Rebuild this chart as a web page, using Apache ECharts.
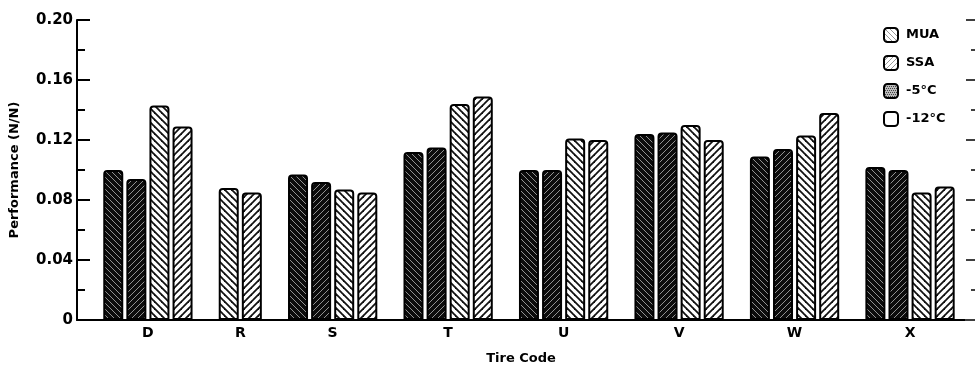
<!DOCTYPE html>
<html>
<head>
<meta charset="utf-8">
<script src="https://cdn.jsdelivr.net/npm/echarts@6/dist/echarts.min.js"></script>
<style>
  html, body { margin: 0; padding: 0; background: #fff; }
  #chart { width: 975px; height: 370px; }
</style>
</head>
<body>
<div id="chart"></div>
<script>
// Tire codes along the x axis
const tireCodes = ['D', 'R', 'S', 'T', 'U', 'V', 'W', 'X'];

// Performance (N/N) per tire code; null = not tested
const muaMinus5  = [0.100, null,  0.097, 0.112, 0.100, 0.124, 0.109, 0.102];
const ssaMinus5  = [0.094, null,  0.092, 0.115, 0.100, 0.125, 0.114, 0.100];
const muaMinus12 = [0.143, 0.088, 0.087, 0.144, 0.121, 0.130, 0.123, 0.085];
const ssaMinus12 = [0.129, 0.085, 0.085, 0.149, 0.120, 0.120, 0.138, 0.089];

// Y axis tick labels (0 to 0.20 by 0.04)
const yTickLabels = ['0', '0.04', '0.08', '0.12', '0.16', '0.20'];

// Legend entries
const legendNames = ['MUA', 'SSA', '-5°C', '-12°C'];

// ---- hatch patterns ----
function hatch(bg, fg, dir, size, lw) {
  const c = document.createElement('canvas');
  c.width = c.height = size;
  const g = c.getContext('2d');
  g.fillStyle = bg;
  g.fillRect(0, 0, size, size);
  g.strokeStyle = fg;
  g.lineWidth = lw;
  for (let k = -1; k <= 1; k++) {
    g.beginPath();
    if (dir === '\\') {
      g.moveTo(k * size - size, -size);
      g.lineTo(k * size + 2 * size, 2 * size);
    } else {
      g.moveTo(k * size - size, 2 * size);
      g.lineTo(k * size + 2 * size, -size);
    }
    g.stroke();
  }
  return { image: c, repeat: 'repeat' };
}
function stipple(bg, fg, size) {
  const c = document.createElement('canvas');
  c.width = c.height = size;
  const g = c.getContext('2d');
  g.fillStyle = bg;
  g.fillRect(0, 0, size, size);
  g.fillStyle = fg;
  for (let y = 0; y < size; y += 2) {
    for (let x = (y / 2) % 2; x < size; x += 2) g.fillRect(x, y, 1, 1);
  }
  return { image: c, repeat: 'repeat' };
}

const fills = [
  hatch('#0c0c0c', 'rgba(255,255,255,0.55)', '\\', 6, 1),
  hatch('#0c0c0c', 'rgba(255,255,255,0.55)', '/', 6, 1),
  hatch('#fff', '#111', '\\', 7, 1.8),
  hatch('#fff', '#111', '/', 7, 1.8)
];
const legendFills = [
  hatch('#fff', '#999', '\\', 5, 1),
  hatch('#fff', '#999', '/', 5, 1),
  stipple('#bbb', '#444', 4),
  '#fff'
];

// ---- slot layout: one slot per bar present, one blank slot between groups ----
const seriesValues = [muaMinus5, ssaMinus5, muaMinus12, ssaMinus12];
const seriesNames = ['MUA -5°C', 'SSA -5°C', 'MUA -12°C', 'SSA -12°C'];
const slotData = seriesValues.map(() => []);
const groupCenters = [];
let slot = 0;
tireCodes.forEach((code, i) => {
  const start = slot;
  seriesValues.forEach((vals, s) => {
    if (vals[i] != null) { slotData[s].push([slot, vals[i]]); slot++; }
  });
  groupCenters.push((start + slot - 1) / 2);
  slot++;
});
const lastSlot = slot - 2;

const font = 'DejaVu Sans';

const barSeries = seriesValues.map((v, s) => ({
  name: seriesNames[s],
  type: 'bar',
  data: slotData[s],
  barWidth: 20,
  barGap: '-100%',
  itemStyle: {
    color: fills[s],
    borderColor: '#000',
    borderWidth: 2,
    borderRadius: [3, 3, 0, 0]
  },
  silent: true
}));

const legendSeries = legendNames.map((n, i) => ({
  name: n,
  type: 'bar',
  data: [],
  barWidth: 20,
  barGap: '-100%',
  itemStyle: { color: legendFills[i], borderColor: '#000', borderWidth: 2 }
}));

const chart = echarts.init(document.getElementById('chart'), null, { renderer: 'canvas' });
chart.setOption({
  animation: false,
  backgroundColor: '#fff',
  grid: { left: 76, right: 10, top: 20, bottom: 45, containLabel: false },
  legend: {
    data: legendNames,
    orient: 'vertical',
    left: 878,
    top: 22,
    itemWidth: 14,
    itemHeight: 14,
    itemGap: 12,
    icon: 'roundRect',
    selectedMode: false,
    textStyle: { fontFamily: font, fontWeight: 'bold', fontSize: 13, color: '#000', padding: [0, 0, 0, 3] }
  },
  xAxis: {
    type: 'value',
    min: -1.57,
    max: lastSlot + 0.88,
    name: 'Tire Code',
    nameLocation: 'middle',
    nameGap: 32,
    nameTextStyle: { fontFamily: font, fontWeight: 'bold', fontSize: 13, color: '#000' },
    axisLine: { show: true, onZero: false, lineStyle: { color: '#000', width: 2 } },
    axisTick: { show: false },
    splitLine: { show: false },
    axisLabel: {
      customValues: groupCenters,
      margin: 6,
      fontFamily: font, fontWeight: 'bold', fontSize: 14, color: '#000',
      formatter: (val) => {
        let best = 0;
        groupCenters.forEach((c, i) => { if (Math.abs(c - val) < Math.abs(groupCenters[best] - val)) best = i; });
        return tireCodes[best];
      }
    }
  },
  yAxis: [
    {
      type: 'value',
      min: 0, max: 0.2, interval: 0.04,
      name: 'Performance (N/N)',
      nameLocation: 'middle',
      nameGap: 56,
      nameTextStyle: { fontFamily: font, fontWeight: 'bold', fontSize: 13, color: '#000' },
      axisLine: { show: true, onZero: false, lineStyle: { color: '#000', width: 2 } },
      axisTick: { show: true, inside: true, length: 13, lineStyle: { color: '#000', width: 2 } },
      minorTick: { show: true, splitNumber: 2, length: 8, lineStyle: { color: '#000', width: 2 } },
      splitLine: { show: false },
      axisLabel: {
        margin: 4,
        fontFamily: font, fontWeight: 'bold', fontSize: 15, color: '#000',
        formatter: (val) => yTickLabels[Math.round(val / 0.04)]
      }
    },
    {
      type: 'value',
      position: 'right',
      offset: 10,
      min: 0, max: 0.2, interval: 0.04,
      axisLine: { show: false, onZero: false },
      axisTick: { show: true, inside: true, length: 9, lineStyle: { color: '#000', width: 1.5 } },
      minorTick: { show: true, splitNumber: 2, length: 4, lineStyle: { color: '#000', width: 1.5 } },
      splitLine: { show: false },
      axisLabel: { show: false }
    }
  ],
  series: barSeries.concat(legendSeries)
});
</script>
</body>
</html>
